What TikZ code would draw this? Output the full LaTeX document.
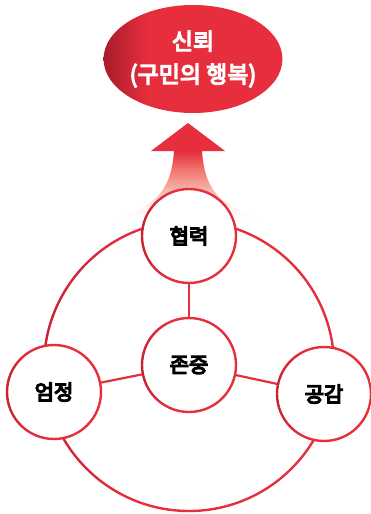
\documentclass[tikz,border=0pt]{standalone}
\usepackage{fontspec}
\setmainfont{Noto Sans CJK KR}
\usetikzlibrary{shapes.geometric}
\newcommand\heavytext[2]{\special{pdf:literal direct 2 Tr 1.3 w #1 G}#2\special{pdf:literal direct 0 Tr}}
\definecolor{rd}{HTML}{E62E3C}
\definecolor{drd}{HTML}{A81B2B}
\definecolor{mrd}{HTML}{C92233}
\definecolor{pk}{HTML}{F6B0A3}
\definecolor{sal}{HTML}{EF6D67}
\definecolor{pale}{HTML}{FFF4F1}
\pgfdeclarehorizontalshading{ellshade}{100bp}{color(0bp)=(drd); color(25bp)=(drd); color(37bp)=(rd); color(100bp)=(rd)}
\pgfdeclarehorizontalshading{ringshade}{100bp}{color(0bp)=(mrd); color(25bp)=(mrd); color(40bp)=(rd); color(100bp)=(rd)}
\pgfdeclareverticalshading{arrshade}{100bp}{color(0bp)=(white); color(25bp)=(white); color(31bp)=(pale); color(41bp)=(pk); color(52bp)=(sal); color(60bp)=(rd); color(100bp)=(rd)}
\tikzset{
  link/.style={draw=rd, line width=2.2pt},
  valnode/.style={circle, fill=white, minimum size=94pt, inner sep=0pt, font=\fontsize{21}{24}\selectfont},
  topnode/.style={ellipse, shading=ellshade, minimum width=160pt, minimum height=108pt, inner sep=0pt, text=white, align=center, font=\fontsize{23}{33}\selectfont}
}
\begin{document}
\begin{tikzpicture}[x=1pt,y=-1pt]
\useasboundingbox (0,0) rectangle (371,514);
% arrow
\shade[shading=arrshade] (188,123) -- (225,151) -- (202,151)
  .. controls (205,195) and (225,207) .. (261,219)
  -- (115,219)
  .. controls (151,207) and (171,195) .. (174,151)
  -- (151,151) -- cycle;
% big ring
\coordinate (ctr) at (189,366);
\shade[shading=ringshade, even odd rule] (ctr) circle (146.2) (ctr) circle (143.8);
% links
\coordinate (hyc) at (189,236);
\coordinate (joc) at (189,365);
\coordinate (eoc) at (54,392);
\coordinate (goc) at (324,394);
\draw[link] (hyc) -- (joc);
\draw[link] (joc) -- (eoc);
\draw[link] (joc) -- (goc);
% nodes
\node[valnode] (hy) at (hyc) {\heavytext{0}{협력}};
\node[valnode] (jo) at (joc) {\heavytext{0}{존중}};
\node[valnode] (eo) at (eoc) {\heavytext{0}{엄정}};
\node[valnode] (go) at (goc) {\heavytext{0}{공감}};
\foreach \n in {hy,jo,eo,go}
  \shade[shading=ringshade, even odd rule] (\n.center) circle (48.2) (\n.center) circle (45.8);
\node[topnode] (sin) at (193,59) {\heavytext{1}{신뢰}\\\heavytext{1}{(구민의 행복)}};
\end{tikzpicture}
\end{document}
